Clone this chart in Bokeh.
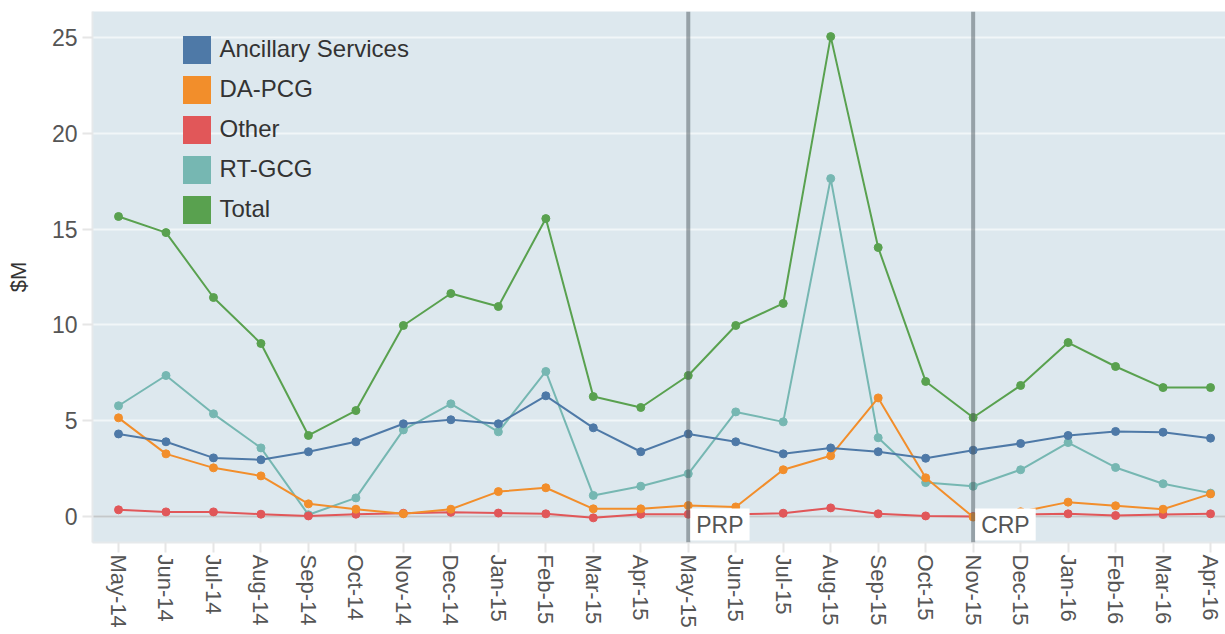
from bokeh.plotting import figure
from bokeh.models import Range1d, FixedTicker, Span, Label, Legend, LegendItem
from bokeh.embed import file_html
from bokeh.resources import INLINE

FONT = "Liberation Sans"

months = ["May-14", "Jun-14", "Jul-14", "Aug-14", "Sep-14", "Oct-14", "Nov-14", "Dec-14",
          "Jan-15", "Feb-15", "Mar-15", "Apr-15", "May-15", "Jun-15", "Jul-15", "Aug-15",
          "Sep-15", "Oct-15", "Nov-15", "Dec-15", "Jan-16", "Feb-16", "Mar-16", "Apr-16"]

ancillary = [4.31, 3.90, 3.06, 2.96, 3.38, 3.90, 4.84, 5.05, 4.84, 6.30, 4.63, 3.38,
             4.31, 3.90, 3.27, 3.58, 3.38, 3.04, 3.46, 3.81, 4.23, 4.44, 4.40, 4.09]
da_pcg = [5.15, 3.27, 2.54, 2.12, 0.66, 0.38, 0.14, 0.38, 1.30, 1.50, 0.40, 0.40,
          0.57, 0.50, 2.44, 3.17, 6.19, 2.02, -0.03, 0.25, 0.75, 0.56, 0.38, 1.18]
other = [0.35, 0.24, 0.24, 0.12, 0.03, 0.12, 0.17, 0.22, 0.18, 0.14, -0.07, 0.12,
         0.12, 0.12, 0.17, 0.45, 0.14, 0.03, 0.00, 0.10, 0.14, 0.05, 0.10, 0.14]
rt_gcg = [5.78, 7.36, 5.36, 3.58, 0.09, 0.97, 4.52, 5.88, 4.42, 7.57, 1.10, 1.58,
          2.23, 5.46, 4.94, 17.64, 4.11, 1.77, 1.58, 2.44, 3.86, 2.56, 1.71, 1.22]
total = [15.66, 14.82, 11.43, 9.03, 4.23, 5.53, 9.97, 11.64, 10.96, 15.55, 6.26, 5.69,
         7.36, 9.97, 11.12, 25.05, 14.04, 7.05, 5.17, 6.84, 9.08, 7.83, 6.73, 6.73]

series_names = ["Ancillary Services", "DA-PCG", "Other", "RT-GCG", "Total"]
series_values = [ancillary, da_pcg, other, rt_gcg, total]
series_colors = ["#4e79a7", "#f28e2b", "#e15759", "#76b7b2", "#59a14f"]

y_ticks = [0, 5, 10, 15, 20, 25]
events = ["May-15", "Nov-15"]
event_labels = ["PRP", "CRP"]

xs = list(range(len(months)))

p = figure(width=1225, height=634, output_backend="svg", toolbar_location=None,
           x_range=Range1d(-0.548, 23.315), y_range=Range1d(-1.357, 26.36),
           min_border_left=92, min_border_right=0, min_border_top=11, min_border_bottom=92,
           background_fill_color="#dde8ee", border_fill_color="white",
           outline_line_color=None)

p.xgrid.visible = False
p.ygrid.grid_line_color = "white"
p.ygrid.grid_line_alpha = 0.6
p.ygrid.grid_line_width = 2

p.xaxis.ticker = FixedTicker(ticks=xs)
p.xaxis.major_label_overrides = {i: m for i, m in enumerate(months)}
p.xaxis.major_label_orientation = "vertical"
p.yaxis.ticker = FixedTicker(ticks=y_ticks)

for ax in (p.xaxis[0], p.yaxis[0]):
    ax.axis_line_color = "#e6e9eb"
    ax.axis_line_width = 2
    ax.major_tick_line_color = "#e6e6e6"
    ax.major_tick_line_width = 2
    ax.major_tick_in = 0
    ax.major_tick_out = 10
    ax.minor_tick_line_color = None
    ax.major_label_text_font = FONT
    ax.major_label_text_color = "#555555"
p.xaxis.major_label_text_font_size = "22px"
p.xaxis.major_label_standoff = 2
p.yaxis.major_label_text_font_size = "23px"
p.yaxis.major_label_standoff = 5

p.yaxis.axis_label = "$M"
p.yaxis.axis_label_text_font = FONT
p.yaxis.axis_label_text_font_size = "22px"
p.yaxis.axis_label_text_font_style = "normal"
p.yaxis.axis_label_text_color = "#333333"
p.yaxis.axis_label_standoff = 18

# zero line
p.add_layout(Span(location=0, dimension="width", line_color="#c4c8ca", line_width=2,
                  level="underlay"))

# series (drawn in reverse legend order)
for vals, col in reversed(list(zip(series_values, series_colors))):
    p.line(xs, vals, line_color=col, line_width=2)
    p.scatter(xs, vals, size=8, fill_color=col, line_color=col)

# legend with square swatches (zero-area quads carry the swatch style)
items = []
for name, vals, col in zip(series_names, series_values, series_colors):
    r = p.quad(left=xs, right=xs, top=vals, bottom=vals, fill_color=col,
               line_color=None)
    items.append(LegendItem(label=name, renderers=[r]))
legend = Legend(items=items, location=(86.5, 315.5), glyph_width=35, glyph_height=35,
                spacing=5, padding=0, margin=0, label_standoff=6,
                label_text_font=FONT, label_text_font_size="24px",
                label_text_color="#333333", background_fill_alpha=0,
                border_line_color=None)
p.add_layout(legend)

# event lines and labels
for ev in events:
    idx = months.index(ev)
    p.add_layout(Span(location=idx, dimension="height", line_color="#505a60",
                      line_alpha=0.5, line_width=4))
for ev, lab in zip(events, event_labels):
    idx = months.index(ev)
    p.add_layout(Label(x=idx, y=2, y_units="screen", x_offset=2, text=lab,
                       text_font=FONT, text_font_size="23px", text_color="#555555",
                       text_baseline="bottom", text_align="left",
                       background_fill_color="white",
                       padding=dict(left=6, right=6, top=3, bottom=3)))

open("out.html", "w").write(file_html(p, INLINE))
